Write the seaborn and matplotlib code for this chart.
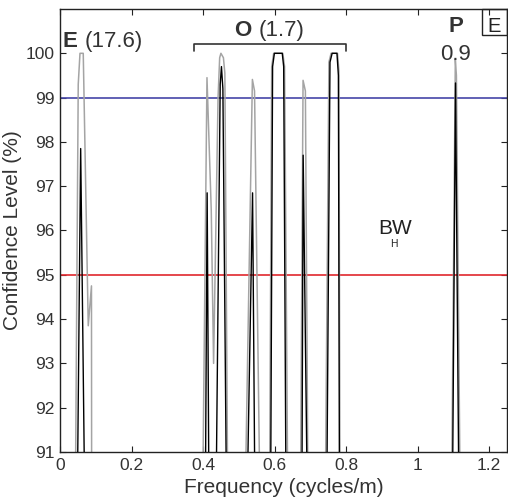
import numpy as np
import pandas as pd
import matplotlib
matplotlib.use("Agg")
import matplotlib.pyplot as plt
import seaborn as sns

# ---- data ----
gray_freq = [0.0430, 0.0510, 0.0559, 0.0650, 0.0790, 0.0880, 0.0885,
             0.3990, 0.4110, 0.4230, 0.4295, 0.4420, 0.4465, 0.4500, 0.4570, 0.4610, 0.4690,
             0.5180, 0.5380, 0.5440, 0.5590,
             0.5860, 0.5920, 0.5975, 0.6230, 0.6280, 0.6370,
             0.6725, 0.6797, 0.6862, 0.6935,
             0.7420, 0.7520, 0.7580, 0.7760, 0.7800, 0.7830,
             1.0950, 1.1055, 1.1085, 1.1190]
gray_conf = [90.0, 99.30, 100.0, 100.0, 93.85, 94.75, 90.0,
             90.0, 99.45, 96.45, 93.00, 99.00, 99.90, 100.0, 99.90, 99.55, 90.0,
             90.0, 99.41, 99.15, 90.0,
             90.0, 99.70, 100.0, 100.0, 99.70, 90.0,
             90.0, 99.39, 99.15, 90.0,
             90.0, 99.80, 100.0, 100.0, 99.60, 90.0,
             90.0, 99.86, 99.50, 90.0]

black_freq = [0.0485, 0.0578, 0.0690,
              0.4065, 0.4115, 0.4165,
              0.4365, 0.4480, 0.4515, 0.4555, 0.4655,
              0.5235, 0.5385, 0.5450,
              0.5890, 0.5945, 0.5995, 0.6215, 0.6255, 0.6320,
              0.6765, 0.6800, 0.6915,
              0.7460, 0.7550, 0.7610, 0.7745, 0.7785, 0.7815,
              1.0975, 1.1060, 1.1155]
black_conf = [90.0, 97.85, 90.0,
              90.0, 96.85, 90.0,
              90.0, 99.30, 99.70, 99.20, 90.0,
              90.0, 96.85, 90.0,
              90.0, 99.70, 100.0, 100.0, 99.70, 90.0,
              90.0, 97.70, 90.0,
              90.0, 99.80, 100.0, 100.0, 99.50, 90.0,
              90.0, 99.33, 90.0]

level_99 = 99
level_95 = 95
x_ticks = [0, 0.2, 0.4, 0.6, 0.8, 1.0, 1.2]
x_tick_labels = ["0", "0.2", "0.4", "0.6", "0.8", "1", "1.2"]
y_ticks = [91, 92, 93, 94, 95, 96, 97, 98, 99, 100]

# ---- style ----
sns.set_style("ticks")
plt.rcParams["font.family"] = ["Liberation Sans", "DejaVu Sans"]
txt = "#333333"

fig = plt.figure(figsize=(5.08, 5.03), dpi=100)
ax = fig.add_axes([60 / 508, 1 - 452 / 503, 447 / 508, 443 / 503])

ax.axhline(level_99, color="#4545a8", lw=1.2, zorder=1)
ax.axhline(level_95, color="#e0282e", lw=1.2, zorder=1)

sns.lineplot(x=gray_freq, y=gray_conf, sort=False, estimator=None,
             color="#a4a4a4", lw=1.1, ax=ax, zorder=2)
sns.lineplot(x=black_freq, y=black_conf, sort=False, estimator=None,
             color="#000000", lw=1.0, ax=ax, zorder=3)

ax.set_xlim(0, 1.25)
ax.set_ylim(91, 101)
ax.set_xticks(x_ticks)
ax.set_xticklabels(x_tick_labels)
ax.set_yticks(y_ticks)
ax.tick_params(direction="in", top=True, right=True, length=4, width=0.8,
               labelsize=12.5, labelcolor=txt, color="#222222", pad=4)
for s in ax.spines.values():
    s.set_color("#222222")
    s.set_linewidth(1.0)

ax.set_xlabel("Frequency (cycles/m)", fontsize=15, color=txt, labelpad=4)
ax.set_ylabel("Confidence Level (%)", fontsize=15, color=txt, labelpad=2)
ax.yaxis.set_label_coords(-0.085, 0.5)

# ---- annotations ----
ax.text(0.0056, 100.14, "E", fontsize=16, fontweight="bold", color=txt,
        ha="left", va="baseline")
ax.text(0.0698, 100.14, "(17.6)", fontsize=16, color=txt, ha="left", va="baseline")

ax.text(0.486, 100.39, "O", fontsize=16, fontweight="bold", color=txt,
        ha="left", va="baseline")
ax.text(0.556, 100.39, "(1.7)", fontsize=16, color=txt, ha="left", va="baseline")
ax.plot([0.375, 0.375, 0.799, 0.799], [100.05, 100.22, 100.22, 100.05],
        color="#333333", lw=1.2, clip_on=False)

ax.text(1.106, 100.48, "P", fontsize=16, fontweight="bold", color=txt,
        ha="center", va="baseline")
ax.text(1.1053, 99.84, "0.9", fontsize=16, color=txt, ha="center", va="baseline")

ax.text(0.9358, 95.93, "BW", fontsize=15, color="#222222", ha="center", va="baseline")
ax.text(0.934, 95.63, "H", fontsize=7.5, color="#222222", ha="center", va="baseline")

ax.add_patch(plt.Rectangle((0.944, 0.9413), 0.056, 0.0587, transform=ax.transAxes,
                           fill=False, edgecolor="#222222", lw=1.0, clip_on=False))
ax.text(0.9705, 0.9488, "E", transform=ax.transAxes, fontsize=14.5,
        color="#222222", ha="center", va="baseline")

fig.savefig("out.png", dpi=100)
